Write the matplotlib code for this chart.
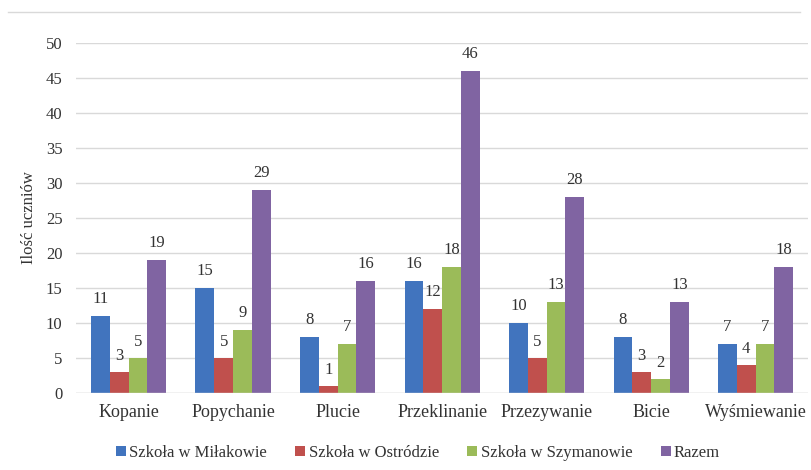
import numpy as np
import matplotlib
matplotlib.use("Agg")
import matplotlib.pyplot as plt
from matplotlib.lines import Line2D

# Data
categories = ["Kopanie", "Popychanie", "Plucie", "Przeklinanie",
              "Przezywanie", "Bicie", "Wyśmiewanie"]
milakowo   = [11, 15, 8, 16, 10, 8, 7]
ostroda    = [3, 5, 1, 12, 5, 3, 4]
szymanowo  = [5, 9, 7, 18, 13, 2, 7]
razem      = [19, 29, 16, 46, 28, 13, 18]

series = [
    ("Szkoła w Miłakowie", milakowo,  "#4174BE"),
    ("Szkoła w Ostródzie", ostroda,   "#C0504D"),
    ("Szkoła w Szymanowie", szymanowo, "#9BBB59"),
    ("Razem",              razem,     "#8064A2"),
]

plt.rcParams["font.family"] = ["Liberation Serif", "DejaVu Serif"]

fig = plt.figure(figsize=(8.12, 4.70), dpi=100)
ax = fig.add_axes([0.094, 0.164, 0.901, 0.745])

x = np.arange(len(categories))
w = 0.18
text_col = "#333333"

for i, (name, vals, color) in enumerate(series):
    pos = x + (i - 1.5) * w
    bars = ax.bar(pos, vals, width=w, color=color, label=name, zorder=3)
    for b, v in zip(bars, vals):
        ax.text(b.get_x() + b.get_width() / 2, v + 1.2, str(v),
                ha="center", va="bottom", fontsize=12, color=text_col)

ax.set_xlim(-0.5, len(categories) - 0.5)
ax.set_ylim(0, 50)
ax.set_yticks(np.arange(0, 51, 5))
ax.set_xticks(x)
ax.set_xticklabels(categories, fontsize=13, color=text_col)
ax.tick_params(axis="y", labelsize=12, colors=text_col, length=0, pad=10)
ax.tick_params(axis="x", length=0, pad=8)
ax.grid(axis="y", color="#D9D9D9", linewidth=1, zorder=0)
for s in ax.spines.values():
    s.set_visible(False)
ax.axhline(0, color="#D9D9D9", linewidth=1, zorder=4)

ax.set_ylabel("Ilość uczniów", fontsize=12, color=text_col, labelpad=6)

# frame line on top of the picture
fig.add_artist(Line2D([0.01, 0.985], [0.975, 0.975], color="#D9D9D9",
                      linewidth=1, transform=fig.transFigure))

ax.legend(loc="upper center", bbox_to_anchor=(0.467, -0.105), ncol=4,
          frameon=False, fontsize=12, handlelength=0.6, handleheight=0.6,
          handletextpad=0.2, columnspacing=1.7, labelcolor=text_col)

fig.savefig("out.png", dpi=100)
